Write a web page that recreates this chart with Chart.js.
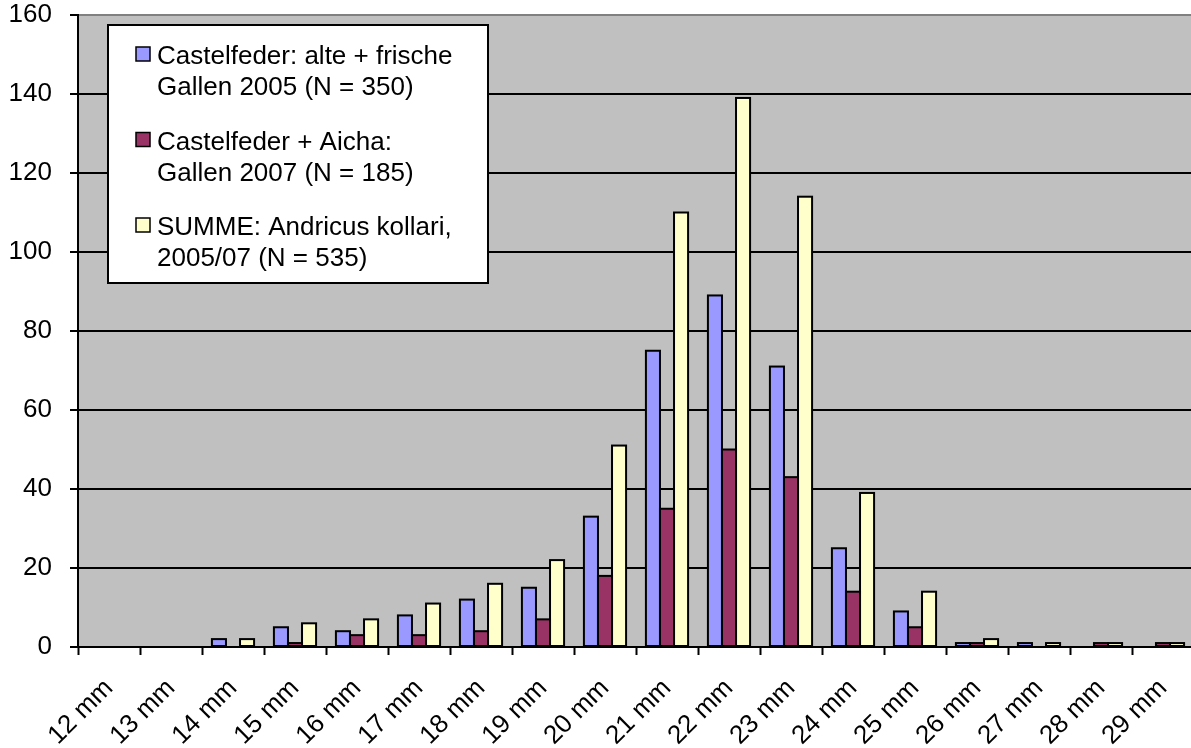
<!DOCTYPE html>
<html>
<head>
<meta charset="utf-8">
<script src="https://cdn.jsdelivr.net/npm/chart.js@4"></script>
<style>
  html, body { margin: 0; padding: 0; background: #ffffff; overflow: hidden; }
  #wrap { width: 1194px; height: 748px; position: relative; }
</style>
</head>
<body>
<div id="wrap"><canvas id="chart"></canvas></div>
<script>
// Gall diameter classes
const categories = ['12 mm', '13 mm', '14 mm', '15 mm', '16 mm', '17 mm', '18 mm', '19 mm', '20 mm',
                    '21 mm', '22 mm', '23 mm', '24 mm', '25 mm', '26 mm', '27 mm', '28 mm', '29 mm'];

// Counts per diameter class
const castelfeder2005      = [0, 0, 2, 5, 4, 8, 12, 15, 33, 75, 89, 71, 25, 9, 1, 1, 0, 0];
const castelfederAicha2007 = [0, 0, 0, 1, 3, 3, 4, 7, 18, 35, 50, 43, 14, 5, 1, 0, 1, 1];
const summe                = [0, 0, 2, 6, 7, 11, 16, 22, 51, 110, 139, 114, 39, 14, 2, 1, 1, 1];

// Legend text, one array of lines per series
const seriesLabels = [
  ['Castelfeder: alte + frische', 'Gallen 2005 (N = 350)'],
  ['Castelfeder + Aicha:', 'Gallen 2007 (N = 185)'],
  ['SUMME: Andricus kollari,', '2005/07 (N = 535)']
];

const yTicks = [0, 20, 40, 60, 80, 100, 120, 140, 160];

const colors = ['#9999FF', '#993366', '#FFFFCC'];
const FONT = "'Liberation Sans', Arial, Helvetica, sans-serif";

// Grey plot background
const plotBackground = {
  id: 'plotBackground',
  beforeDraw(chart) {
    const { ctx, chartArea: a } = chart;
    ctx.save();
    ctx.fillStyle = '#C0C0C0';
    ctx.fillRect(a.left, a.top, a.right - a.left, a.bottom - a.top);
    ctx.restore();
  }
};

// Black outline centred on each bar edge, so short bars keep their fill visible
const barOutline = {
  id: 'barOutline',
  afterDatasetsDraw(chart) {
    const { ctx } = chart;
    ctx.save();
    ctx.lineWidth = 2;
    ctx.strokeStyle = '#000000';
    chart.data.datasets.forEach((ds, i) => {
      const meta = chart.getDatasetMeta(i);
      meta.data.forEach((bar, j) => {
        if (!ds.data[j]) return;
        const { x, y, base, width } = bar.getProps(['x', 'y', 'base', 'width'], true);
        ctx.strokeRect(x - width / 2, y, width, base - y);
      });
    });
    ctx.restore();
  }
};

// Boxed legend inside the plot area with two-line entries
const boxedLegend = {
  id: 'boxedLegend',
  afterDraw(chart) {
    const { ctx } = chart;
    const box = { x: 108, y: 25, w: 380, h: 258 };
    ctx.save();
    ctx.fillStyle = '#ffffff';
    ctx.fillRect(box.x, box.y, box.w, box.h);
    ctx.lineWidth = 2;
    ctx.strokeStyle = '#000000';
    ctx.strokeRect(box.x, box.y, box.w, box.h);
    ctx.font = '26px ' + FONT;
    ctx.textBaseline = 'alphabetic';
    ctx.textAlign = 'left';
    chart.data.datasets.forEach((ds, i) => {
      const lines = seriesLabels[i];
      const top = box.y + 22 + i * 85.5;
      ctx.fillStyle = ds.backgroundColor;
      ctx.fillRect(box.x + 28, top, 14, 14);
      ctx.lineWidth = 1.5;
      ctx.strokeStyle = '#000000';
      ctx.strokeRect(box.x + 28, top, 14, 14);
      ctx.fillStyle = '#000000';
      lines.forEach((ln, j) => {
        ctx.fillText(ln, box.x + 49, top + 17 + j * 31);
      });
    });
    ctx.restore();
  }
};

new Chart(document.getElementById('chart'), {
  type: 'bar',
  data: {
    labels: categories,
    datasets: [
      { label: seriesLabels[0].join(' '), data: castelfeder2005, backgroundColor: colors[0] },
      { label: seriesLabels[1].join(' '), data: castelfederAicha2007, backgroundColor: colors[1] },
      { label: seriesLabels[2].join(' '), data: summe, backgroundColor: colors[2] }
    ]
  },
  options: {
    responsive: true,
    maintainAspectRatio: false,
    animation: false,
    devicePixelRatio: 1,
    layout: { padding: { top: 15, right: 0, left: 0, bottom: 0 } },
    datasets: {
      bar: {
        borderWidth: 0,
        categoryPercentage: 0.68,
        barPercentage: 1.0
      }
    },
    plugins: {
      legend: { display: false },
      tooltip: { enabled: false }
    },
    scales: {
      x: {
        type: 'category',
        offset: true,
        afterFit(scale) {
          scale.height = 101;
          scale.paddingLeft = 0;
          scale.paddingRight = 0;
        },
        grid: {
          offset: true,
          drawOnChartArea: false,
          drawTicks: true,
          tickLength: 8,
          tickWidth: 2,
          tickColor: '#000000'
        },
        border: { display: true, color: '#000000', width: 2 },
        ticks: {
          minRotation: 45,
          maxRotation: 45,
          autoSkip: false,
          padding: 18,
          color: '#000000',
          font: { family: FONT, size: 26 }
        }
      },
      y: {
        min: 0,
        max: 160,
        afterFit(scale) {
          scale.width = 78;
          scale.paddingTop = 0;
          scale.paddingBottom = 0;
        },
        afterBuildTicks(scale) { scale.ticks = yTicks.map(v => ({ value: v })); },
        grid: {
          color: ctx => (ctx.tick && ctx.tick.value === 160 ? '#808080' : '#000000'),
          lineWidth: 2,
          drawTicks: true,
          tickLength: 8,
          tickWidth: 2,
          tickColor: '#000000'
        },
        border: { display: true, color: '#000000', width: 2 },
        ticks: {
          padding: 18,
          color: '#000000',
          font: { family: FONT, size: 26 }
        }
      }
    }
  },
  plugins: [plotBackground, barOutline, boxedLegend]
});
</script>
</body>
</html>
